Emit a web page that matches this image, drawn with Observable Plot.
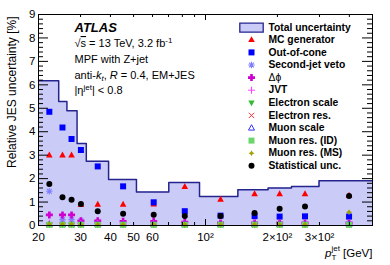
<!DOCTYPE html>
<html><head><meta charset="utf-8">
<script src="https://cdn.jsdelivr.net/npm/d3@7"></script>
<script src="https://cdn.jsdelivr.net/npm/@observablehq/plot@0.6"></script>
<style>
html,body{margin:0;padding:0;background:#fff;}
</style></head><body><div id="chart"></div>
<script>
// ---------- data ----------
const ptCenters = [22.2, 25.2, 27.5, 30.1, 35.4, 45.2, 60.7, 81.9, 115.6, 160.5, 204.3, 260.9, 398.9];
const binEdges  = [20, 24.3, 26.3, 29.0, 31.7, 39.3, 51.4, 70.2, 94.4, 136.6, 182.8, 229, 298.6, 500];
const totalUnc  = [6.17, 5.29, 4.89, 3.50, 2.74, 1.96, 1.43, 1.83, 1.24, 1.52, 1.60, 1.66, 1.91];
const mcGenerator   = [3.00, 3.00, 3.00, 0.89, 0.90, 0.90, 0.91, 1.66, 1.11, 1.35, 1.35, 1.35, 1.28];
const outOfCone     = [4.85, 4.18, 3.69, 3.22, 2.52, 1.67, 0.99, 0.61, 0.42, 0.40, 0.38, 0.39, 0.38];
const secondJetVeto = [1.46, 0.25, 0.25, 0.20, 0.15, 0.08, 0.05, 0.05, 0.04, 0.04, 0.04, 0.04, 0.04];
const deltaPhi      = [0.45, 0.45, 0.45, 0.20, 0.20, 0.18, 0.18, 0.15, 0.11, 0.11, 0.11, 0.11, 0.11];
const jvt           = [0.10, 0.10, 0.10, 0.08, 0.08, 0.06, 0.06, 0.05, 0.05, 0.05, 0.05, 0.05, 0.05];
const electronScale = [0.03, 0.03, 0.03, 0.03, 0.03, 0.03, 0.03, 0.03, 0.03, 0.03, 0.03, 0.03, 0.03];
const electronRes   = [0.02, 0.02, 0.02, 0.02, 0.02, 0.02, 0.02, 0.02, 0.02, 0.02, 0.02, 0.02, 0.02];
const muonScale     = [0.05, 0.05, 0.05, 0.05, 0.05, 0.05, 0.05, 0.05, 0.05, 0.05, 0.05, 0.05, 0.05];
const muonResID     = [0.03, 0.03, 0.03, 0.03, 0.03, 0.03, 0.03, 0.03, 0.03, 0.03, 0.03, 0.03, 0.03];
const muonResMS     = [0.06, 0.06, 0.06, 0.05, 0.05, 0.05, 0.05, 0.05, 0.05, 0.05, 0.05, 0.05, 0.57];
const statUnc       = [1.77, 1.20, 1.10, 0.92, 0.61, 0.50, 0.46, 0.40, 0.40, 0.53, 0.71, 0.81, 1.26];
const xTickLabels = [[20,"20"],[30,"30"],[40,"40"],[50,"50"],[60,"60"],[100,"10²"],[200,"2×10²"],[300,"3×10²"]];
const xMinorTicks = [20,30,40,50,60,70,80,90,200,300,400];
const xMajorTicks = [100];
const yTickLabels = [0,1,2,3,4,5,6,7,8,9];

// ---------- marker shapes ----------
const sym = f => ({draw(c, size){ f(c, Math.sqrt(size/Math.PI)); }});
const triUp = sym((c,r)=>{c.moveTo(0,-r*1.1);c.lineTo(r,r*0.7);c.lineTo(-r,r*0.7);c.closePath();});
const triDown = sym((c,r)=>{c.moveTo(0,r*1.1);c.lineTo(r,-r*0.7);c.lineTo(-r,-r*0.7);c.closePath();});
const square = sym((c,r)=>{c.rect(-r,-r,2*r,2*r);});
const circle = sym((c,r)=>{c.moveTo(r,0);c.arc(0,0,r,0,2*Math.PI);});
const crossThick = sym((c,r)=>{const a=r*0.38;c.moveTo(-r,-a);c.lineTo(-a,-a);c.lineTo(-a,-r);c.lineTo(a,-r);c.lineTo(a,-a);c.lineTo(r,-a);c.lineTo(r,a);c.lineTo(a,a);c.lineTo(a,r);c.lineTo(-a,r);c.lineTo(-a,a);c.lineTo(-r,a);c.closePath();});
const plusThin = sym((c,r)=>{c.moveTo(-r,0);c.lineTo(r,0);c.moveTo(0,-r);c.lineTo(0,r);});
const times = sym((c,r)=>{const k=r*0.8;c.moveTo(-k,-k);c.lineTo(k,k);c.moveTo(k,-k);c.lineTo(-k,k);});
const asterisk = sym((c,r)=>{const k=r*0.75;c.moveTo(-r,0);c.lineTo(r,0);c.moveTo(0,-r);c.lineTo(0,r);c.moveTo(-k,-k);c.lineTo(k,k);c.moveTo(k,-k);c.lineTo(-k,k);});
const diamond = sym((c,r)=>{const a=r*0.35;c.moveTo(0,-r);c.lineTo(a,-a);c.lineTo(r,0);c.lineTo(a,a);c.lineTo(0,r);c.lineTo(-a,a);c.lineTo(-r,0);c.lineTo(-a,-a);c.closePath();});
const box = sym((c,r)=>{c.rect(-11.7,-4.5,23.4,9);});

const series = [
  {name:"MC generator",     values:mcGenerator,   symbol:triUp,     r:3.3, fill:"#ff0000", stroke:"none"},
  {name:"Out-of-cone",      values:outOfCone,     symbol:square,    r:3.0, fill:"#0000ff", stroke:"none"},
  {name:"Second-jet veto",  values:secondJetVeto, symbol:asterisk,  r:3.2, fill:"none",    stroke:"#7f7fff", sw:1.1},
  {name:"Δϕ",               values:deltaPhi,      symbol:crossThick,r:3.5, fill:"#d000d0", stroke:"none", plain:true},
  {name:"JVT",              values:jvt,           symbol:plusThin,  r:3.5, fill:"none",    stroke:"#ff40ff", sw:1},
  {name:"Electron scale",   values:electronScale, symbol:triDown,   r:3.2, fill:"#33bb33", stroke:"none"},
  {name:"Electron res.",    values:electronRes,   symbol:times,     r:3.3, fill:"none",    stroke:"#ff3333", sw:1},
  {name:"Muon scale",       values:muonScale,     symbol:triUp,     r:3.0, fill:"none",    stroke:"#3333ff", sw:1},
  {name:"Muon res. (ID)",   values:muonResID,     symbol:square,    r:3.0, fill:"#6ad66a", stroke:"none"},
  {name:"Muon res. (MS)",   values:muonResMS,     symbol:diamond,   r:3.0, fill:"#a0a000", stroke:"none"},
  {name:"Statistical unc.", values:statUnc,       symbol:circle,    r:3.0, fill:"#000000", stroke:"none"}
];

// ---------- layout ----------
const W = 390, H = 265, mL = 38, mR = 18, mT = 14, mB = 40;
const fw = W - mL - mR, fh = H - mT - mB;
const font = "'Liberation Sans', Arial, Helvetica, sans-serif";
const fillTot = "#cbcbf8", strokeTot = "#24248f";

const totalTable = binEdges.map((e, i) => ({pt: e, unc: totalUnc[Math.min(i, totalUnc.length - 1)]}));

const marks = [];
marks.push(Plot.areaY(totalTable, {x:"pt", y:"unc", curve:"step-after", fill:fillTot}));
marks.push(Plot.lineY(totalTable, {x:"pt", y:"unc", curve:"step-after", stroke:strokeTot, strokeWidth:1.5}));
for (const s of series) {
  const data = ptCenters.map((pt, i) => ({pt, v: s.values[i]}));
  marks.push(Plot.dot(data, {x:"pt", y:"v", symbol:s.symbol, r:s.r, fill:s.fill, stroke:s.stroke, strokeWidth:s.sw || 1}));
}
// ticks (inside, ROOT style) on all four sides
marks.push(Plot.tickX(xMinorTicks, {x:d=>d, insetTop:fh-3, stroke:"black"}));
marks.push(Plot.tickX(xMajorTicks, {x:d=>d, insetTop:fh-6, stroke:"black"}));
marks.push(Plot.tickX(xMinorTicks, {x:d=>d, insetBottom:fh-3, stroke:"black"}));
marks.push(Plot.tickX(xMajorTicks, {x:d=>d, insetBottom:fh-6, stroke:"black"}));
const yMinor = d3.range(0, 9.001, 0.2).filter(v => Math.abs(v - Math.round(v)) > 1e-6);
marks.push(Plot.tickY(yMinor, {y:d=>d, insetRight:fw-5, stroke:"black"}));
marks.push(Plot.tickY(yTickLabels, {y:d=>d, insetRight:fw-10, stroke:"black"}));
marks.push(Plot.tickY(yMinor, {y:d=>d, insetLeft:fw-5, stroke:"black"}));
marks.push(Plot.tickY(yTickLabels, {y:d=>d, insetLeft:fw-10, stroke:"black"}));
marks.push(Plot.frame({stroke:"black", strokeWidth:1}));
// tick labels
marks.push(Plot.axisX({ticks:xTickLabels.map(d=>d[0]), tickFormat:v => (xTickLabels.find(d=>d[0]===v)||[0,""])[1], tickSize:0, tickPadding:7, fontSize:11.5, label:null}));
marks.push(Plot.axisY({ticks:yTickLabels, tickSize:0, tickPadding:3, fontSize:11.5, label:null}));
// axis titles
marks.push(Plot.text(["Relative JES uncertainty [%]"], {frameAnchor:"top-left", dx:-26, dy:2, rotate:-90, textAnchor:"end", lineAnchor:"middle", fontSize:12, fill:"black"}));
marks.push(Plot.text(["pT jet [GeV]"], {frameAnchor:"top-left", dx:fw, dy:fh+31, textAnchor:"end", lineAnchor:"bottom", fontSize:11.5, fill:"black", ariaDescription:"xtitle"}));
// annotation block
const ax = 36;
marks.push(Plot.text(["ATLAS"], {frameAnchor:"top-left", dx:ax, dy:31.7-mT, textAnchor:"start", lineAnchor:"bottom", fontSize:13, fontWeight:"bold", fontStyle:"italic", fill:"black"}));
marks.push(Plot.text(["√s = 13 TeV, 3.2 fb-1"], {frameAnchor:"top-left", dx:ax, dy:46.5-mT, textAnchor:"start", lineAnchor:"bottom", fontSize:11, fill:"black", ariaDescription:"anno-s"}));
marks.push(Plot.text(["MPF with Z+jet"], {frameAnchor:"top-left", dx:ax, dy:62.5-mT, textAnchor:"start", lineAnchor:"bottom", fontSize:11, fill:"black"}));
marks.push(Plot.text(["anti-kt, R = 0.4, EM+JES"], {frameAnchor:"top-left", dx:ax, dy:78-mT, textAnchor:"start", lineAnchor:"bottom", fontSize:11, fill:"black", ariaDescription:"anno-kt"}));
marks.push(Plot.text(["|ηjet| < 0.8"], {frameAnchor:"top-left", dx:ax, dy:93.5-mT, textAnchor:"start", lineAnchor:"bottom", fontSize:11, fill:"black", ariaDescription:"anno-eta"}));
// legend
const legX = 251 - mL, legTX = 268 - mL;
marks.push(Plot.dot([0], {frameAnchor:"top-left", dx:legX, dy:27.2-mT, symbol:box, r:3, fill:fillTot, stroke:strokeTot, strokeWidth:1.3}));
marks.push(Plot.text(["Total uncertainty"], {frameAnchor:"top-left", dx:legTX, dy:27.2-mT, textAnchor:"start", lineAnchor:"middle", fontSize:10.3, fontWeight:"bold", fill:"black"}));
series.forEach((s, i) => {
  const yy = 39.3 + i*12.6 - mT;
  marks.push(Plot.dot([0], {frameAnchor:"top-left", dx:legX, dy:yy, symbol:s.symbol, r:s.r, fill:s.fill, stroke:s.stroke, strokeWidth:s.sw || 1}));
  marks.push(Plot.text([s.name], {frameAnchor:"top-left", dx:legTX, dy:yy, textAnchor:"start", lineAnchor:"middle", fontSize:10.3, fontWeight:s.plain ? "normal" : "bold", fill:"black"}));
});

const svg = Plot.plot({
  width: W, height: H, marginLeft: mL, marginRight: mR, marginTop: mT, marginBottom: mB,
  style: {fontFamily: font, fontSize: "11px", background: "white", color: "black", overflow: "visible"},
  x: {type: "log", domain: [20, 500], axis: null},
  y: {domain: [0, 9], axis: null},
  marks
});

// rich text (italics, sub/superscripts) in the annotation texts
const root = d3.select(svg);
function rich(label, parts) {
  const t = root.select(`g[aria-description="${label}"] text`);
  if (t.empty()) return;
  t.text(null);
  for (const p of parts) {
    const ts = t.append("tspan").text(p.t);
    if (p.dx != null) ts.attr("dx", p.dx);
    if (p.dy != null) ts.attr("dy", p.dy);
    if (p.size) ts.attr("font-size", p.size);
    if (p.italic) ts.attr("font-style", "italic");
    if (p.over) ts.attr("text-decoration", "overline");
  }
}
rich("anno-s", [{t:"√"}, {t:"s", over:true}, {t:" = 13 TeV, 3.2 fb"}, {t:"-1", size:8, dy:-4.5}]);
rich("anno-kt", [{t:"anti-"}, {t:"k", italic:true}, {t:"t", italic:true, size:8, dy:2.5}, {t:", ", dy:-2.5}, {t:"R", italic:true}, {t:" = 0.4, EM+JES"}]);
rich("anno-eta", [{t:"|η"}, {t:"jet", size:8, dy:-4.5}, {t:"| < 0.8", dy:4.5}]);
rich("xtitle", [{t:"p", italic:true}, {t:"T", size:8, dy:3}, {t:"jet", size:8, dx:-4.9, dy:-8.5}, {t:" [GeV]", dy:5.5}]);

document.getElementById("chart").appendChild(svg);
</script>
</body></html>
